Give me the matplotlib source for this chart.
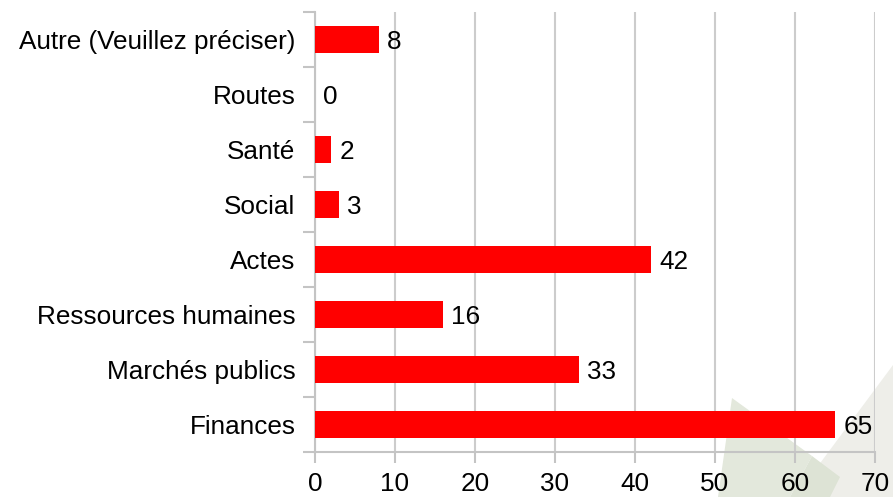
import matplotlib.pyplot as plt
from matplotlib.patches import Polygon
import numpy as np

plt.rcParams['font.family'] = ['Liberation Sans', 'DejaVu Sans']

categories = ["Finances", "Marchés publics", "Ressources humaines", "Actes",
              "Social", "Santé", "Routes", "Autre (Veuillez préciser)"]
counts = [65, 33, 16, 42, 3, 2, 0, 8]
x_ticks = [0, 10, 20, 30, 40, 50, 60, 70]

W, H = 893, 497
fig = plt.figure(figsize=(W / 100, H / 100), dpi=100)


def px(pts):
    # pixel coords (top-left origin) -> figure fraction
    return [(x / W, 1 - y / H) for x, y in pts]


# faint watermark shapes in the lower right corner
fig.patches.append(Polygon(px([(893, 365), (893, 497), (795, 497)]), closed=True,
                           transform=fig.transFigure, facecolor='#eeeee9', edgecolor='none', zorder=-2))
fig.patches.append(Polygon(px([(718, 497), (732, 398), (812, 456), (790, 497)]), closed=True,
                           transform=fig.transFigure, facecolor='#e3e8dc', edgecolor='none', zorder=-1))
fig.patches.append(Polygon(px([(790, 497), (812, 456), (840, 477), (830, 497)]), closed=True,
                           transform=fig.transFigure, facecolor='#dde3d5', edgecolor='none', zorder=-1))

ax = fig.add_axes([0.3527, 0.0905, 0.6271, 0.8854])
ax.patch.set_alpha(0)

y = np.arange(len(categories))
ax.barh(y, counts, height=0.5, color='#ff0000', zorder=3)
for yi, v in zip(y, counts):
    ax.annotate(str(v), (v, yi), xytext=(6, -2), textcoords='offset points',
                va='center', ha='left', fontsize=18.8, color='black')

ax.set_xlim(0, 70)
ax.set_ylim(-0.5, len(categories) - 0.5)
ax.set_xticks(x_ticks)
ax.set_yticks(y)
ax.set_yticklabels(categories)
ax.set_yticks(np.arange(-0.5, len(categories), 1), minor=True)
ax.tick_params(axis='y', which='major', length=0, pad=14, labelsize=18.8)
ax.tick_params(axis='y', which='minor', length=8.5, color='#c4c4c4', width=1.5)
ax.tick_params(axis='x', length=8, color='#c4c4c4', width=1.5, labelsize=18.8, pad=6.5)

ax.grid(axis='x', color='#cccccc', linewidth=1.5, zorder=0)
for s in ['top', 'right']:
    ax.spines[s].set_visible(False)
for s in ['left', 'bottom']:
    ax.spines[s].set_color('#c4c4c4')
    ax.spines[s].set_linewidth(1.5)

fig.savefig('out.png', dpi=100)
